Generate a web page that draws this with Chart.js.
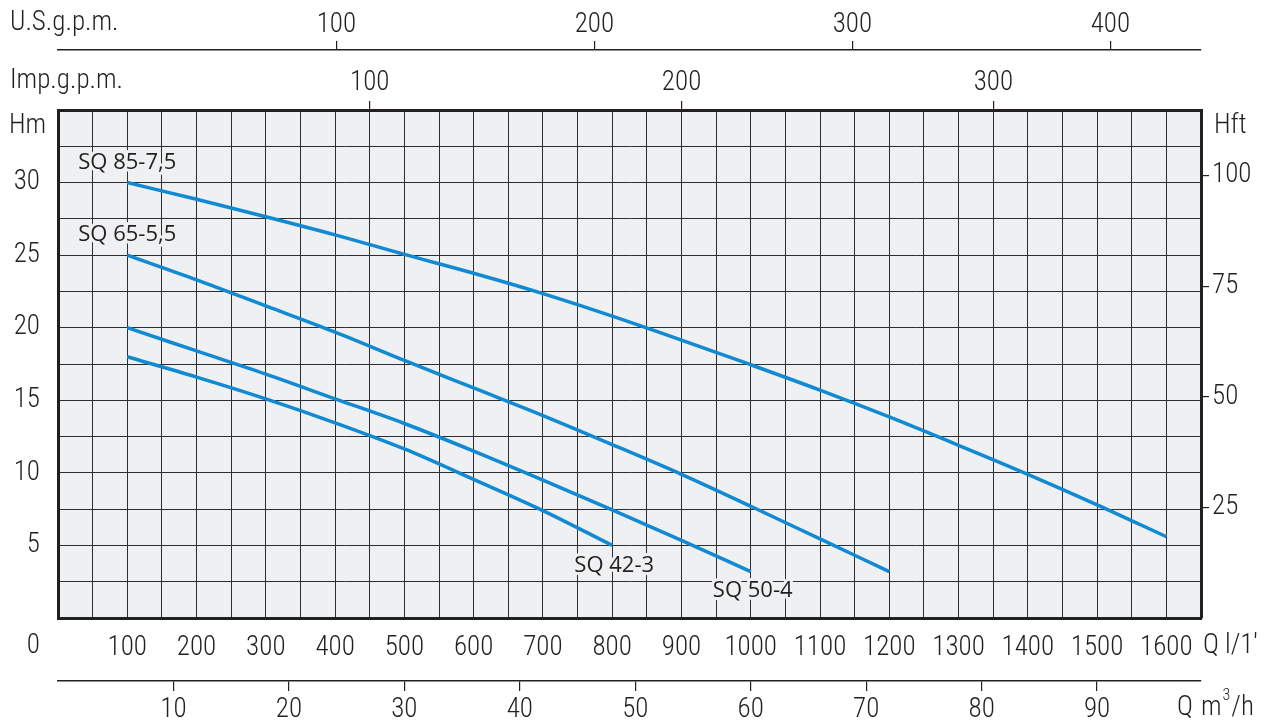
<!DOCTYPE html>
<html>
<head>
<meta charset="utf-8">
<script src="https://cdn.jsdelivr.net/npm/chart.js@4/dist/chart.umd.min.js"></script>
<style>
  body { margin: 0; background: #fff; }
  #kriva { display: block; }
</style>
</head>
<body>
<canvas id="kriva" width="1278" height="726"></canvas>
<script>
// protok u l/min i visina dizanja u m, procitano sa slike
const nazivi = ["SQ 85-7,5", "SQ 65-5,5", "SQ 50-4", "SQ 42-3"];
const q85 = [100, 200, 300, 400, 500, 600, 700, 800, 900, 1000, 1100, 1200, 1300, 1400, 1500, 1600];
const h85 = [30, 28.85, 27.65, 26.4, 25.05, 23.75, 22.35, 20.8, 19.15, 17.45, 15.7, 13.85, 11.9, 9.9, 7.8, 5.6];
const q65 = [100, 200, 300, 400, 500, 600, 700, 800, 900, 1000, 1100, 1200];
const h65 = [25, 23.3, 21.5, 19.7, 17.75, 15.85, 13.95, 11.95, 9.9, 7.7, 5.45, 3.2];
const q50 = [100, 200, 300, 400, 500, 600, 700, 800, 900, 1000];
const h50 = [20, 18.4, 16.8, 15.1, 13.4, 11.5, 9.5, 7.45, 5.35, 3.2];
const q42 = [100, 200, 300, 400, 500, 600, 700, 800];
const h42 = [18, 16.6, 15.1, 13.45, 11.65, 9.55, 7.4, 5.0];

// podeoci na osama
const qLinije = [];
for (let v = 0; v <= 1650; v += 50) qLinije.push(v);
const qOznake = [100, 200, 300, 400, 500, 600, 700, 800, 900, 1000, 1100, 1200, 1300, 1400, 1500, 1600];
const hLinije = [0, 2.5, 5, 7.5, 10, 12.5, 15, 17.5, 20, 22.5, 25, 27.5, 30, 32.5, 35];
const hOznake = [5, 10, 15, 20, 25, 30];
const ftOznake = [25, 50, 75, 100];
const impOznake = [100, 200, 300];
const usOznake = [100, 200, 300, 400];
const m3Oznake = [10, 20, 30, 40, 50, 60, 70, 80, 90];

const plava = "#1189d3";
const tamna = "#231f20";
const pozadina = "#eff0f1";
const slova = "'Roboto Condensed', 'Liberation Sans Narrow', 'DejaVu Sans Condensed', sans-serif";
const fontOse = { family: slova, size: 27, weight: 300 };

Chart.defaults.color = tamna;
Chart.defaults.font.family = slova;

function serija(q, h) {
  return {
    data: q.map((x, i) => ({ x: x, y: h[i] })),
    borderColor: plava,
    borderWidth: 3.5,
    pointRadius: 0,
    cubicInterpolationMode: "monotone",
    fill: false
  };
}

function podeoci(niz) {
  return s => { s.ticks = niz.map(v => ({ value: v })); };
}

// ispisuje delove teksta jedan za drugim
function niz(c, delovi, x, y) {
  delovi.forEach(d => {
    c.font = "300 " + d[1] + "px " + slova;
    c.fillText(d[0], x, y + (d[2] || 0));
    x += c.measureText(d[0]).width + (d[3] || 0);
  });
}

// pozadina polja i natpisi van osa
const dodaci = {
  id: "dodaci",
  beforeDraw(chart) {
    const a = chart.chartArea, c = chart.ctx;
    c.save();
    c.fillStyle = pozadina;
    c.fillRect(a.left, a.top, a.right - a.left, a.bottom - a.top);
    c.restore();
  },
  afterDatasetsDraw(chart) {
    const c = chart.ctx;
    const sx = chart.scales.x, sy = chart.scales.y;
    c.save();
    c.font = "22px 'Open Sans', 'Noto Sans', sans-serif";
    c.textBaseline = "middle";
    c.lineJoin = "round";
    c.strokeStyle = pozadina;
    c.lineWidth = 6;
    c.fillStyle = tamna;
    const oznake = [
      [nazivi[0], q85[0], h85[0], "left", -49, -20],
      [nazivi[1], q65[0], h65[0], "left", -49, -20],
      [nazivi[2], q50[q50.length - 1], h50[h50.length - 1], "center", 2, 19],
      [nazivi[3], q42[q42.length - 1], h42[h42.length - 1], "center", 2, 20]
    ];
    oznake.forEach(o => {
      const px = sx.getPixelForValue(o[1]) + o[4];
      const py = sy.getPixelForValue(o[2]) + o[5];
      c.textAlign = o[3];
      c.strokeText(o[0], px, py);
      c.fillText(o[0], px, py);
    });
    c.restore();
  },
  afterDraw(chart) {
    const c = chart.ctx;
    c.save();
    c.fillStyle = tamna;
    c.textBaseline = "middle";
    c.textAlign = "left";
    c.font = "300 27px " + slova;
    c.fillText("U.S.g.p.m.", 10, 23);
    c.fillText("Imp.g.p.m.", 10, 81);
    c.fillText("Hm", 9, 126);
    c.fillText("Hft", 1214, 126);
    niz(c, [["Q", 27, 0, 6], ["l/1'", 27]], 1203, 646);
    niz(c, [["Q", 27, 0, 8], ["m", 27, 0, 1], ["3", 16, -12, 1], ["/h", 27]], 1177, 708);
    c.textAlign = "right";
    c.font = "300 27px " + slova;
    c.fillText("0", 40, 646);
    c.restore();
  }
};

new Chart(document.getElementById("kriva"), {
  type: "line",
  data: {
    datasets: [serija(q85, h85), serija(q65, h65), serija(q50, h50), serija(q42, h42)]
  },
  options: {
    responsive: false,
    animation: false,
    layout: { padding: 0 },
    plugins: { legend: { display: false }, tooltip: { enabled: false } },
    scales: {
      x: {
        type: "linear", position: "bottom", weight: 0,
        min: 0, max: 1650,
        afterBuildTicks: podeoci(qLinije),
        afterFit: s => { s.height = 63; },
        ticks: {
          autoSkip: false, maxRotation: 0, padding: 14, font: fontOse,
          callback: v => qOznake.includes(v) ? v : ""
        },
        grid: { color: "#2e2e2e", lineWidth: 1, drawTicks: false },
        border: { color: tamna, width: 3 }
      },
      m3: {
        type: "linear", position: "bottom", weight: 1,
        min: 0, max: 99,
        afterBuildTicks: podeoci(m3Oznake),
        afterFit: s => { s.height = 45; },
        ticks: { autoSkip: false, maxRotation: 0, padding: 3, font: fontOse },
        grid: { drawOnChartArea: false, tickLength: 10, color: tamna, lineWidth: 1.2 },
        border: { color: tamna, width: 1.5 }
      },
      y: {
        type: "linear", position: "left",
        min: 0, max: 35,
        afterBuildTicks: podeoci(hLinije),
        afterFit: s => { s.width = 58; },
        ticks: {
          autoSkip: false, padding: 18, font: fontOse,
          callback: v => hOznake.includes(v) ? v : ""
        },
        grid: { color: "#2e2e2e", lineWidth: 1, drawTicks: false },
        border: { color: tamna, width: 3 }
      },
      ft: {
        type: "linear", position: "right",
        min: 0, max: 35 * 3.28084,
        afterBuildTicks: podeoci(ftOznake),
        afterFit: s => { s.width = 77; },
        ticks: { autoSkip: false, padding: 3, font: fontOse },
        grid: { drawOnChartArea: false, tickLength: 8, color: tamna, lineWidth: 1.2 },
        border: { color: tamna, width: 3 }
      },
      imp: {
        type: "linear", position: "top", weight: 0,
        min: 0, max: 366.6,
        afterBuildTicks: podeoci(impOznake),
        afterFit: s => { s.height = 60; },
        ticks: { autoSkip: false, maxRotation: 0, padding: 2, font: fontOse },
        grid: { drawOnChartArea: false, tickLength: 9, color: tamna, lineWidth: 1.2 },
        border: { color: tamna, width: 3 }
      },
      us: {
        type: "linear", position: "top", weight: 1,
        min: -7.9, max: 435.1,
        afterBuildTicks: podeoci(usOznake),
        afterFit: s => { s.height = 50; },
        ticks: { autoSkip: false, maxRotation: 0, padding: 0, font: fontOse },
        grid: { drawOnChartArea: false, tickLength: 9, color: tamna, lineWidth: 1.2 },
        border: { color: tamna, width: 1.5 }
      }
    }
  },
  plugins: [dodaci]
});
</script>
</body>
</html>
